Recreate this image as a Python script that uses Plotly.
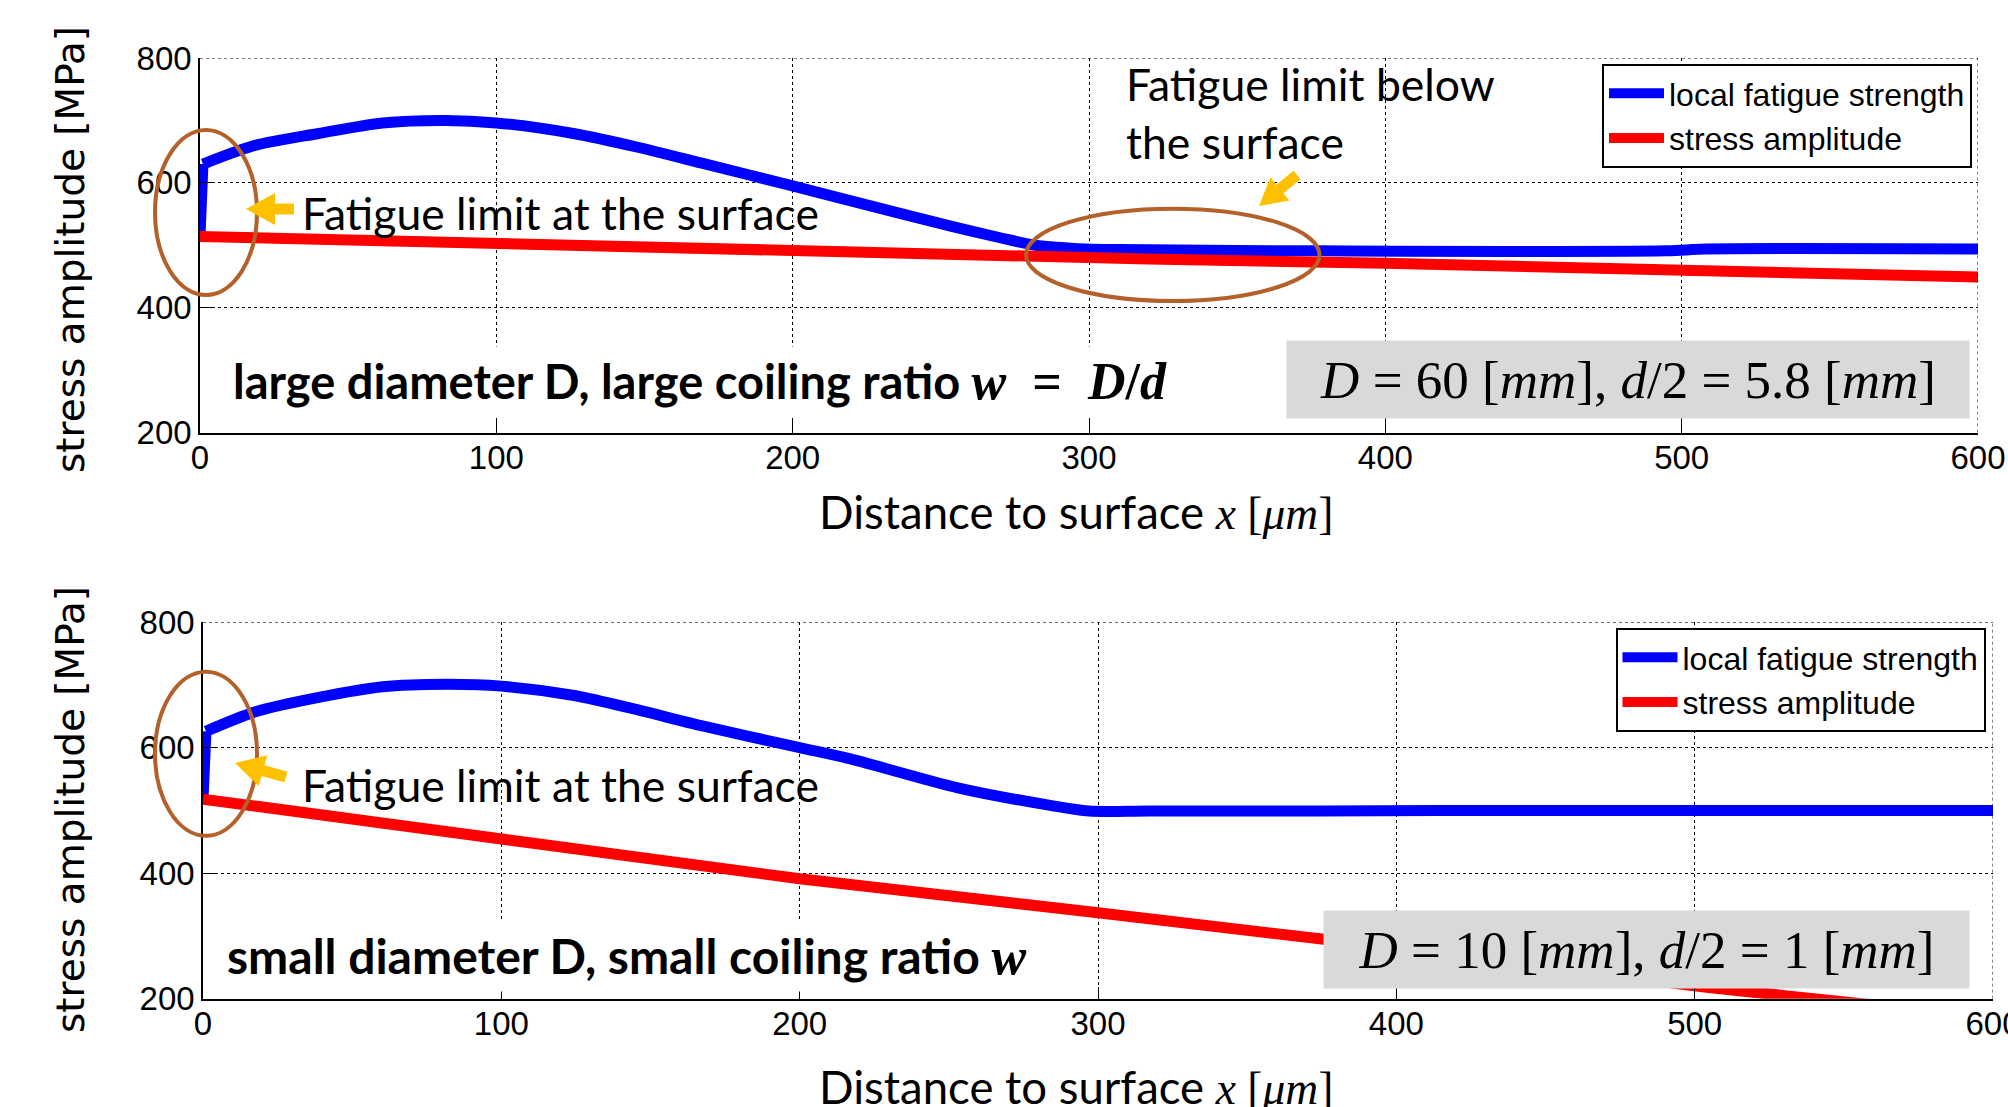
import math
import plotly.graph_objects as go

W, H = 2008, 1107

# ---------------- data ----------------
x_fs_top = [0, 1, 18.6, 40, 61.6, 83, 100, 126, 147.7, 169, 200, 219, 253, 270, 282, 295, 310, 378, 495, 508, 600]
fs_top = [515, 630, 660, 679, 696, 700, 696, 679, 657, 632, 595, 572, 531, 512, 500, 495, 493, 491, 491, 494, 494]

x_sa_top = [0, 100, 200, 219, 253, 300, 320, 400, 500, 600]
sa_top = [514, 502, 491, 489, 485, 481, 478, 471, 460, 449]

x_fs_bot = [0, 1, 17.5, 38.8, 60.2, 81.6, 100, 124.4, 145.8, 167, 200, 217, 253, 284, 297, 317, 375, 414, 600]
fs_bot = [518, 626, 657, 680, 697, 701, 698, 683, 660, 635, 600, 582, 536, 508, 499, 499, 499, 500, 500]

x_sa_bot = [0, 100, 200, 300, 375, 504, 560]
sa_bot = [518, 453, 391, 337, 295, 218, 190]

x_ticks = [0, 100, 200, 300, 400, 500, 600]
y_ticks = [200, 400, 600, 800]

series_names = ["local fatigue strength", "stress amplitude"]
BLUE, RED = "#0000ff", "#ff0000"
BROWN, YELLOW, GRAY = "#b4602a", "#ffc000", "#d9d9d9"

SANS = "Lato, Carlito, Calibri, sans-serif"
SERIF = "Liberation Serif, DejaVu Serif, serif"
ARIAL = "Liberation Sans, Arial, sans-serif"
LW = 11


def px(x):
    return x / W


def py(y):
    return 1 - y / H


fig = go.Figure()
for xs, ys, xa, ya, lg in ((x_fs_top, fs_top, "x", "y", "legend"),
                           (x_fs_bot, fs_bot, "x2", "y2", "legend2")):
    # the jump at the surface (straight), then the smooth strength curve
    fig.add_trace(go.Scatter(x=xs[:2], y=ys[:2], mode="lines", showlegend=False,
                             line=dict(color=BLUE, width=LW), xaxis=xa, yaxis=ya, legend=lg))
    fig.add_trace(go.Scatter(x=xs[1:], y=ys[1:], mode="lines", name=series_names[0],
                             line=dict(color=BLUE, width=LW, shape="spline", smoothing=0.8),
                             xaxis=xa, yaxis=ya, legend=lg))
for xs, ys, xa, ya, lg in ((x_sa_top, sa_top, "x", "y", "legend"),
                           (x_sa_bot, sa_bot, "x2", "y2", "legend2")):
    fig.add_trace(go.Scatter(x=xs, y=ys, mode="lines", name=series_names[1],
                             line=dict(color=RED, width=LW), xaxis=xa, yaxis=ya, legend=lg))

ax_common = dict(showgrid=True, gridcolor="black", griddash="dot", gridwidth=1,
                 showline=True, linecolor="black", linewidth=1.5, mirror=False,
                 ticks="inside", tickcolor="black", tickwidth=1, automargin=False,
                 tickfont=dict(family=ARIAL, size=33, color="black"), zeroline=False)
x_common = dict(ax_common, range=[0, 600], tickvals=x_ticks, ticklen=12,
                ticklabeloverflow="allow", ticklabelstandoff=-5)
y_common = dict(ax_common, range=[200, 800], tickvals=y_ticks, ticklen=15)

legend_common = dict(xanchor="right", yanchor="top", bgcolor="white", bordercolor="black",
                     borderwidth=2, itemwidth=55,
                     font=dict(family=ARIAL, size=32, color="black"))

fig.update_layout(
    width=W, height=H, margin=dict(l=0, r=0, t=0, b=0, autoexpand=False),
    paper_bgcolor="white", plot_bgcolor="white", showlegend=True,
    xaxis=dict(x_common, domain=[px(200), px(1978)], anchor="y"),
    yaxis=dict(y_common, domain=[py(432.5), py(58)], anchor="x"),
    xaxis2=dict(x_common, domain=[px(203), px(1993)], anchor="y2"),
    yaxis2=dict(y_common, domain=[py(998.7), py(622.1)], anchor="x2"),
    legend=dict(legend_common, x=px(1972), y=py(64)),
    legend2=dict(legend_common, x=px(1985.5), y=py(628)),
)

shapes = []
# dotted top / right box edges
for xr, yr in (("x", "y"), ("x2", "y2")):
    shapes.append(dict(type="line", xref=xr, yref=yr, x0=0, x1=600, y0=800, y1=800,
                       line=dict(color="black", width=1, dash="dot")))
    shapes.append(dict(type="line", xref=xr, yref=yr, x0=600, x1=600, y0=200, y1=800,
                       line=dict(color="black", width=1, dash="dot")))

# ellipses (pixel boxes)
for (x0, x1, y0, y1) in [(155, 257, 130, 295), (1026, 1319.5, 208.7, 301), (155, 257, 671.7, 835.7)]:
    shapes.append(dict(type="circle", xref="paper", yref="paper",
                       x0=px(x0), x1=px(x1), y0=py(y1), y1=py(y0),
                       line=dict(color=BROWN, width=4), layer="above"))


def block_arrow(tip, tail, shaft=11, head_w=32, head_l=29):
    tx, ty = tip
    sx, sy = tail
    L = math.hypot(tx - sx, ty - sy)
    dx, dy = (tx - sx) / L, (ty - sy) / L
    nx, ny = -dy, dx
    bx, by = tx - dx * head_l, ty - dy * head_l
    pts = [
        (sx + nx * shaft / 2, sy + ny * shaft / 2),
        (bx + nx * shaft / 2, by + ny * shaft / 2),
        (bx + nx * head_w / 2, by + ny * head_w / 2),
        (tx, ty),
        (bx - nx * head_w / 2, by - ny * head_w / 2),
        (bx - nx * shaft / 2, by - ny * shaft / 2),
        (sx - nx * shaft / 2, sy - ny * shaft / 2),
    ]
    path = "M " + " L ".join(f"{px(a):.5f},{py(b):.5f}" for a, b in pts) + " Z"
    return dict(type="path", xref="paper", yref="paper", path=path,
                fillcolor=YELLOW, line=dict(width=0), layer="above")


shapes.append(block_arrow((246, 209), (294, 209)))
shapes.append(block_arrow((1259, 206), (1297, 175), head_w=30, head_l=27))
shapes.append(block_arrow((235, 763), (286, 777)))
fig.update_layout(shapes=shapes)

ann = []


def text(x, y, s, size, family=SANS, xanchor="left", **kw):
    d = dict(xref="paper", yref="paper", x=px(x), y=py(y), text=s, showarrow=False,
             xanchor=xanchor, yanchor="middle", font=dict(family=family, size=size, color="black"))
    d.update(kw)
    ann.append(d)


text(300, 212, "Fatigue limit at the surface", 44.5)
text(300, 784.5, "Fatigue limit at the surface", 44.5)
text(1124, 113, "Fatigue limit below<br>the surface", 44.5, align="left")

math_w = (f"<span style='font-family:{SERIF};font-size:52px'><b><i>w</i>&nbsp;&nbsp;=&nbsp;&nbsp;"
          f"<i>D</i>/<i>d</i></b></span>")
text(226, 381, "<b>large diameter D, large coiling ratio </b>" + math_w, 47,
     bgcolor="white", borderpad=6)
text(220, 956, "<b>small diameter D, small coiling ratio </b>"
     + f"<span style='font-family:{SERIF};font-size:52px'><b><i>w</i></b></span>", 48,
     bgcolor="white", borderpad=6)

text(1628, 380, "<i>D</i> = 60 [<i>mm</i>], <i>d</i>/2 = 5.8 [<i>mm</i>]", 53, family=SERIF,
     xanchor="center", bgcolor=GRAY, width=682, height=77, borderpad=0)
text(1646.5, 949, "<i>D</i> = 10 [<i>mm</i>], <i>d</i>/2 = 1 [<i>mm</i>]", 53, family=SERIF,
     xanchor="center", bgcolor=GRAY, width=645, height=77, borderpad=0)

xt = f"Distance to surface <span style='font-family:{SERIF}'><i>x</i> [<i>μm</i>]</span>"
text(1076, 512, xt, 45.5, xanchor="center")
text(1076, 1086, xt, 45.5, xanchor="center")

text(70, 250, "stress amplitude [MPa]", 39, family="DejaVu Sans", xanchor="center", textangle=-90)
text(70, 810, "stress amplitude [MPa]", 39, family="DejaVu Sans", xanchor="center", textangle=-90)

fig.update_layout(annotations=ann)
fig.write_html("out.html")
